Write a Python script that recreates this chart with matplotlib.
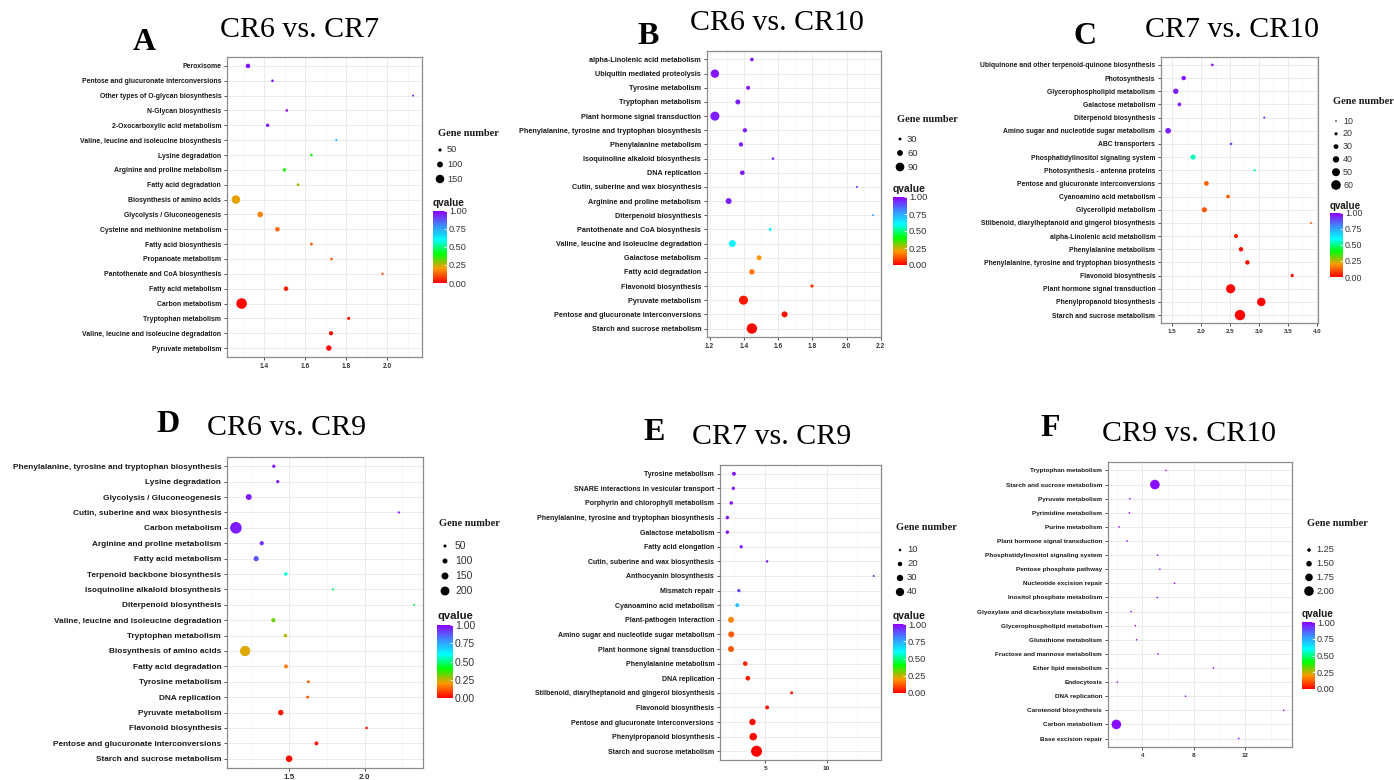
import numpy as np
import matplotlib
matplotlib.use("Agg")
import matplotlib.pyplot as plt
from matplotlib.colors import LinearSegmentedColormap, Normalize
from matplotlib.cm import ScalarMappable

W, H = 1394, 780

# ---- A: CR6 vs. CR7 ----
a_terms = ["Peroxisome", "Pentose and glucuronate interconversions",
           "Other types of O-glycan biosynthesis", "N-Glycan biosynthesis",
           "2-Oxocarboxylic acid metabolism", "Valine, leucine and isoleucine biosynthesis",
           "Lysine degradation", "Arginine and proline metabolism", "Fatty acid degradation",
           "Biosynthesis of amino acids", "Glycolysis / Gluconeogenesis",
           "Cysteine and methionine metabolism", "Fatty acid biosynthesis",
           "Propanoate metabolism", "Pantothenate and CoA biosynthesis",
           "Fatty acid metabolism", "Carbon metabolism", "Tryptophan metabolism",
           "Valine, leucine and isoleucine degradation", "Pyruvate metabolism"]
a_rich = [1.32, 1.44, 2.127, 1.51, 1.416, 1.752, 1.63, 1.498, 1.565, 1.261,
          1.38, 1.464, 1.63, 1.728, 1.977, 1.506, 1.289, 1.812, 1.726, 1.715]
a_genes = [75, 40, 25, 40, 55, 32, 38, 52, 42, 150, 95, 75, 42, 38, 30, 75, 190, 48, 68, 92]
a_q = [0.98, 0.97, 0.97, 0.97, 0.96, 0.72, 0.42, 0.38, 0.28, 0.22,
       0.17, 0.14, 0.12, 0.11, 0.08, 0.04, 0.01, 0.02, 0.01, 0.005]
a_ticks = [1.4, 1.6, 1.8, 2.0]
a_ticklabels = ["1.4", "1.6", "1.8", "2.0"]
a_minor = [1.3, 1.5, 1.7, 1.9, 2.1]
a_breaks = [50, 100, 150]

# ---- B: CR6 vs. CR10 ----
b_terms = ["alpha-Linolenic acid metabolism", "Ubiquitin mediated proteolysis",
           "Tyrosine metabolism", "Tryptophan metabolism", "Plant hormone signal transduction",
           "Phenylalanine, tyrosine and tryptophan biosynthesis", "Phenylalanine metabolism",
           "Isoquinoline alkaloid biosynthesis", "DNA replication",
           "Cutin, suberine and wax biosynthesis", "Arginine and proline metabolism",
           "Diterpenoid biosynthesis", "Pantothenate and CoA biosynthesis",
           "Valine, leucine and isoleucine degradation", "Galactose metabolism",
           "Fatty acid degradation", "Flavonoid biosynthesis", "Pyruvate metabolism",
           "Pentose and glucuronate interconversions", "Starch and sucrose metabolism"]
b_rich = [1.447, 1.231, 1.425, 1.365, 1.231, 1.406, 1.383, 1.570, 1.391, 2.061,
          1.311, 2.155, 1.554, 1.333, 1.489, 1.447, 1.798, 1.398, 1.638, 1.447]
b_genes = [37, 87, 41, 51, 94, 44, 44, 26, 48, 20, 62, 20, 30, 72, 51, 55, 33, 94, 62, 108]
b_q = [0.97, 0.97, 0.97, 0.96, 0.96, 0.96, 0.96, 0.96, 0.96, 0.93,
       0.95, 0.76, 0.63, 0.61, 0.2, 0.15, 0.07, 0.03, 0.02, 0.005]
b_ticks = [1.2, 1.4, 1.6, 1.8, 2.0, 2.2]
b_ticklabels = ["1.2", "1.4", "1.6", "1.8", "2.0", "2.2"]
b_minor = [1.3, 1.5, 1.7, 1.9, 2.1]
b_breaks = [30, 60, 90]

# ---- C: CR7 vs. CR10 ----
c_terms = ["Ubiquinone and other terpenoid-quinone biosynthesis", "Photosynthesis",
           "Glycerophospholipid metabolism", "Galactose metabolism",
           "Diterpenoid biosynthesis", "Amino sugar and nucleotide sugar metabolism",
           "ABC transporters", "Phosphatidylinositol signaling system",
           "Photosynthesis - antenna proteins", "Pentose and glucuronate interconversions",
           "Cyanoamino acid metabolism", "Glycerolipid metabolism",
           "Stilbenoid, diarylheptanoid and gingerol biosynthesis",
           "alpha-Linolenic acid metabolism", "Phenylalanine metabolism",
           "Phenylalanine, tyrosine and tryptophan biosynthesis", "Flavonoid biosynthesis",
           "Plant hormone signal transduction", "Phenylpropanoid biosynthesis",
           "Starch and sucrose metabolism"]
c_rich = [2.195, 1.70, 1.563, 1.626, 3.092, 1.431, 2.517, 1.862, 2.925, 2.092,
          2.466, 2.057, 3.897, 2.603, 2.69, 2.80, 3.575, 2.511, 3.04, 2.672]
c_genes = [17, 28, 34, 23, 13, 36, 17, 32, 15, 30, 23, 32, 12, 26, 28, 28, 21, 57, 53, 65]
c_q = [0.97, 0.97, 0.96, 0.96, 0.95, 0.95, 0.88, 0.55, 0.52, 0.13,
       0.12, 0.11, 0.1, 0.05, 0.03, 0.02, 0.02, 0.005, 0.003, 0.001]
c_ticks = [1.5, 2.0, 2.5, 3.0, 3.5, 4.0]
c_ticklabels = ["1.5", "2.0", "2.5", "3.0", "3.5", "4.0"]
c_minor = [1.75, 2.25, 2.75, 3.25, 3.75]
c_breaks = [10, 20, 30, 40, 50, 60]

# ---- D: CR6 vs. CR9 ----
d_terms = ["Phenylalanine, tyrosine and tryptophan biosynthesis", "Lysine degradation",
           "Glycolysis / Gluconeogenesis", "Cutin, suberine and wax biosynthesis",
           "Carbon metabolism", "Arginine and proline metabolism", "Fatty acid metabolism",
           "Terpenoid backbone biosynthesis", "Isoquinoline alkaloid biosynthesis",
           "Diterpenoid biosynthesis", "Valine, leucine and isoleucine degradation",
           "Tryptophan metabolism", "Biosynthesis of amino acids", "Fatty acid degradation",
           "Tyrosine metabolism", "DNA replication", "Pyruvate metabolism",
           "Flavonoid biosynthesis", "Pentose and glucuronate interconversions",
           "Starch and sucrose metabolism"]
d_rich = [1.399, 1.425, 1.233, 2.227, 1.148, 1.319, 1.282, 1.478, 1.791, 2.328,
          1.396, 1.476, 1.209, 1.480, 1.628, 1.623, 1.445, 2.013, 1.681, 1.5]
d_genes = [54, 54, 124, 28, 270, 80, 106, 62, 28, 20, 80, 62, 236, 72, 46, 46, 114, 36, 72, 140]
d_q = [0.98, 0.98, 0.96, 0.96, 0.96, 0.93, 0.88, 0.58, 0.47, 0.43,
       0.32, 0.26, 0.23, 0.16, 0.12, 0.11, 0.03, 0.02, 0.02, 0.01]
d_ticks = [1.5, 2.0]
d_ticklabels = ["1.5", "2.0"]
d_minor = [1.25, 1.75, 2.25]
d_breaks = [50, 100, 150, 200]

# ---- E: CR7 vs. CR9 ----
e_terms = ["Tyrosine metabolism", "SNARE interactions in vesicular transport",
           "Porphyrin and chlorophyll metabolism",
           "Phenylalanine, tyrosine and tryptophan biosynthesis", "Galactose metabolism",
           "Fatty acid elongation", "Cutin, suberine and wax biosynthesis",
           "Anthocyanin biosynthesis", "Mismatch repair", "Cyanoamino acid metabolism",
           "Plant-pathogen interaction", "Amino sugar and nucleotide sugar metabolism",
           "Plant hormone signal transduction", "Phenylalanine metabolism", "DNA replication",
           "Stilbenoid, diarylheptanoid and gingerol biosynthesis", "Flavonoid biosynthesis",
           "Pentose and glucuronate interconversions", "Phenylpropanoid biosynthesis",
           "Starch and sucrose metabolism"]
e_rich = [2.46, 2.41, 2.24, 1.92, 1.92, 3.05, 5.16, 13.84, 2.86, 2.73,
          2.22, 2.24, 2.22, 3.38, 3.59, 7.16, 5.16, 3.97, 4.03, 4.30]
e_genes = [17, 14, 15, 15, 15, 14, 10, 7, 14, 17, 28, 28, 28, 21, 21, 12, 17, 30, 36, 54]
e_q = [0.97, 0.97, 0.97, 0.97, 0.97, 0.96, 0.95, 0.95, 0.9, 0.71,
       0.18, 0.12, 0.12, 0.05, 0.03, 0.03, 0.02, 0.01, 0.005, 0.001]
e_ticks = [5, 10]
e_ticklabels = ["5", "10"]
e_minor = [2.5, 7.5, 12.5]
e_breaks = [10, 20, 30, 40]

# ---- F: CR9 vs. CR10 ----
f_terms = ["Tryptophan metabolism", "Starch and sucrose metabolism", "Pyruvate metabolism",
           "Pyrimidine metabolism", "Purine metabolism", "Plant hormone signal transduction",
           "Phosphatidylinositol signaling system", "Pentose phosphate pathway",
           "Nucleotide excision repair", "Inositol phosphate metabolism",
           "Glyoxylate and dicarboxylate metabolism", "Glycerophospholipid metabolism",
           "Glutathione metabolism", "Fructose and mannose metabolism",
           "Ether lipid metabolism", "Endocytosis", "DNA replication",
           "Carotenoid biosynthesis", "Carbon metabolism", "Base excision repair"]
f_rich = [5.84, 4.98, 3.04, 2.99, 2.19, 2.81, 5.19, 5.37, 6.51, 5.17,
          3.12, 3.46, 3.56, 5.22, 9.55, 2.06, 7.37, 15.01, 1.98, 11.51]
f_genes = [1, 2, 1, 1, 1, 1, 1, 1, 1, 1, 1, 1, 1, 1, 1, 1, 1, 1, 2, 1]
f_q = [0.99, 0.98, 0.99, 0.99, 0.99, 0.99, 0.99, 0.99, 0.99, 0.99,
       0.99, 0.99, 0.99, 0.99, 0.99, 0.99, 0.99, 0.99, 0.98, 0.99]
f_ticks = [4, 8, 12]
f_ticklabels = ["4", "8", "12"]
f_minor = [2, 6, 10, 14]
f_breaks = [1.25, 1.5, 1.75, 2.0]

qcmap = LinearSegmentedColormap.from_list(
    "qv", [(0, "#FF0000"), (0.2, "#FF9900"), (0.4, "#00FF00"),
           (0.6, "#00FFFF"), (0.8, "#3D8BFF"), (1.0, "#8F00FF")])
qnorm = Normalize(0, 1)

fig = plt.figure(figsize=(W / 100, H / 100), dpi=100)
lay = fig.add_axes([0, 0, 1, 1], zorder=5)
lay.set_xlim(0, W)
lay.set_ylim(H, 0)
lay.axis("off")


def frac(x0, y0, x1, y1):
    return [x0 / W, 1 - y1 / H, (x1 - x0) / W, (y1 - y0) / H]


def marker_area(g, genes, drange):
    # linear map of gene number to dot diameter (px), returned as points^2
    gmin, gmax = min(genes), max(genes)
    d = drange[0] + (drange[1] - drange[0]) * (np.asarray(g, float) - gmin) / (gmax - gmin)
    d = np.clip(d, 1.4, None)
    return (d * 0.72) ** 2


def draw_panel(box, terms, rich, genes, q, ticks, ticklabels, minor, drange, fs, xfs):
    ax = fig.add_axes(frac(*box))
    n = len(terms)
    y = np.arange(n)[::-1]
    ax.scatter(rich, y, s=marker_area(genes, genes, drange), c=q, cmap=qcmap,
               norm=qnorm, linewidths=0, zorder=3)
    lo, hi = min(rich), max(rich)
    pad = 0.05 * (hi - lo)
    ax.set_xlim(lo - pad, hi + pad)
    ax.set_ylim(-0.6, n - 0.4)
    ax.set_yticks(y)
    ax.set_yticklabels(terms, fontsize=fs, fontweight="bold", family="Liberation Sans",
                       color="#1a1a1a")
    ax.set_xticks(ticks)
    ax.set_xticklabels(ticklabels, fontsize=xfs, fontweight="bold",
                       family="Liberation Sans", color="#333333")
    ax.set_xticks(minor, minor=True)
    ax.grid(which="major", color="#EBEBEB", lw=0.7)
    ax.grid(which="minor", axis="x", color="#F3F3F3", lw=0.5)
    ax.set_axisbelow(True)
    ax.tick_params(which="minor", length=0)
    ax.tick_params(which="major", length=2.2, width=0.6, color="#333333", pad=2)
    for sp in ax.spines.values():
        sp.set_color("#8c8c8c")
        sp.set_linewidth(0.9)
    return ax


def draw_legend(genes, drange, breaks, title_xy, dot_x, dot_y0, step, lab_x,
                q_xy, cbox, fs=6.5):
    lay.text(title_xy[0], title_xy[1], "Gene number", family="Liberation Serif",
             fontweight="bold", fontsize=7.5, ha="left", va="center", color="#1a1a1a")
    yy = dot_y0 + step * np.arange(len(breaks))
    lay.scatter([dot_x] * len(breaks), yy, s=marker_area(breaks, genes, drange),
                c="black", linewidths=0)
    for b, yv in zip(breaks, yy):
        lab = "%.2f" % b if isinstance(b, float) else str(b)
        lay.text(lab_x, yv, lab, family="Liberation Sans", fontsize=fs,
                 ha="left", va="center", color="#333333")
    lay.text(q_xy[0], q_xy[1], "qvalue", family="Liberation Sans", fontweight="bold",
             fontsize=fs + 0.6, ha="left", va="bottom", color="#1a1a1a")
    cax = fig.add_axes(frac(*cbox), zorder=6)
    cb = fig.colorbar(ScalarMappable(qnorm, qcmap), cax=cax,
                      ticks=[0, 0.25, 0.5, 0.75, 1.0])
    cb.outline.set_visible(False)
    cb.ax.set_yticklabels(["0.00", "0.25", "0.50", "0.75", "1.00"],
                          fontsize=fs, family="Liberation Sans", color="#333333")
    cb.ax.tick_params(length=2.5, width=0.6, color="white", direction="in", pad=1.5)


# panels
draw_panel((227, 57, 422, 357), a_terms, a_rich, a_genes, a_q, a_ticks, a_ticklabels,
           a_minor, (1.9, 10.6), 4.95, 4.7)
draw_legend(a_genes, (1.9, 10.6), a_breaks, (438, 133), 440, 150, 14.5, 447,
            (433, 208), (433, 211, 447, 283), fs=6.6)

draw_panel((707, 51, 881, 337), b_terms, b_rich, b_genes, b_q, b_ticks, b_ticklabels,
           b_minor, (2.0, 10.4), 5.2, 4.7)
draw_legend(b_genes, (2.0, 10.4), b_breaks, (897, 119), 900, 139, 14, 907,
            (893, 194), (893, 197, 907, 265), fs=6.8)

draw_panel((1161, 57, 1318, 323), c_terms, c_rich, c_genes, c_q, c_ticks, c_ticklabels,
           c_minor, (1.9, 10.4), 4.9, 4.5)
draw_legend(c_genes, (1.9, 10.4), c_breaks, (1333, 101), 1336, 121, 12.8, 1343,
            (1330, 211), (1330, 213, 1343, 277), fs=6.4)

draw_panel((227, 457, 423, 768), d_terms, d_rich, d_genes, d_q, d_ticks, d_ticklabels,
           d_minor, (1.9, 11.6), 5.95, 5.9)
draw_legend(d_genes, (1.9, 11.6), d_breaks, (439, 523), 445, 546, 15, 455,
            (437, 621), (437, 625, 453, 698), fs=7.5)

draw_panel((720, 465, 881, 760), e_terms, e_rich, e_genes, e_q, e_ticks, e_ticklabels,
           e_minor, (2.0, 11.0), 5.0, 4.6)
draw_legend(e_genes, (2.0, 11.0), e_breaks, (896, 528), 900, 550, 14, 907,
            (893, 621), (893, 624, 906, 693), fs=6.8)

draw_panel((1108, 462, 1292, 747), f_terms, f_rich, f_genes, f_q, f_ticks, f_ticklabels,
           f_minor, (1.6, 9.6), 4.55, 4.5)
draw_legend(f_genes, (1.6, 9.6), f_breaks, (1307, 524), 1309, 550, 13.7, 1316,
            (1302, 619), (1302, 622, 1315, 689), fs=6.6)

# titles and panel letters
titles = ["CR6 vs. CR7", "CR6 vs. CR10", "CR7 vs. CR10",
          "CR6 vs. CR9", "CR7 vs. CR9", "CR9 vs. CR10"]
title_pos = [(300, 30), (777, 23), (1232, 30), (287, 428), (772, 437), (1189, 434)]
letters = ["A", "B", "C", "D", "E", "F"]
letter_pos = [(144, 42), (648, 37), (1085, 36), (168, 424), (654, 432), (1050, 428)]

for t, (x, y) in zip(titles, title_pos):
    lay.text(x, y, t, family="Liberation Serif", fontsize=21.5, ha="center",
             va="center", color="black")
for t, (x, y) in zip(letters, letter_pos):
    lay.text(x, y, t, family="Liberation Serif", fontweight="bold", fontsize=23,
             ha="center", va="center", color="black")

fig.savefig("out.png", dpi=100, facecolor="white")
